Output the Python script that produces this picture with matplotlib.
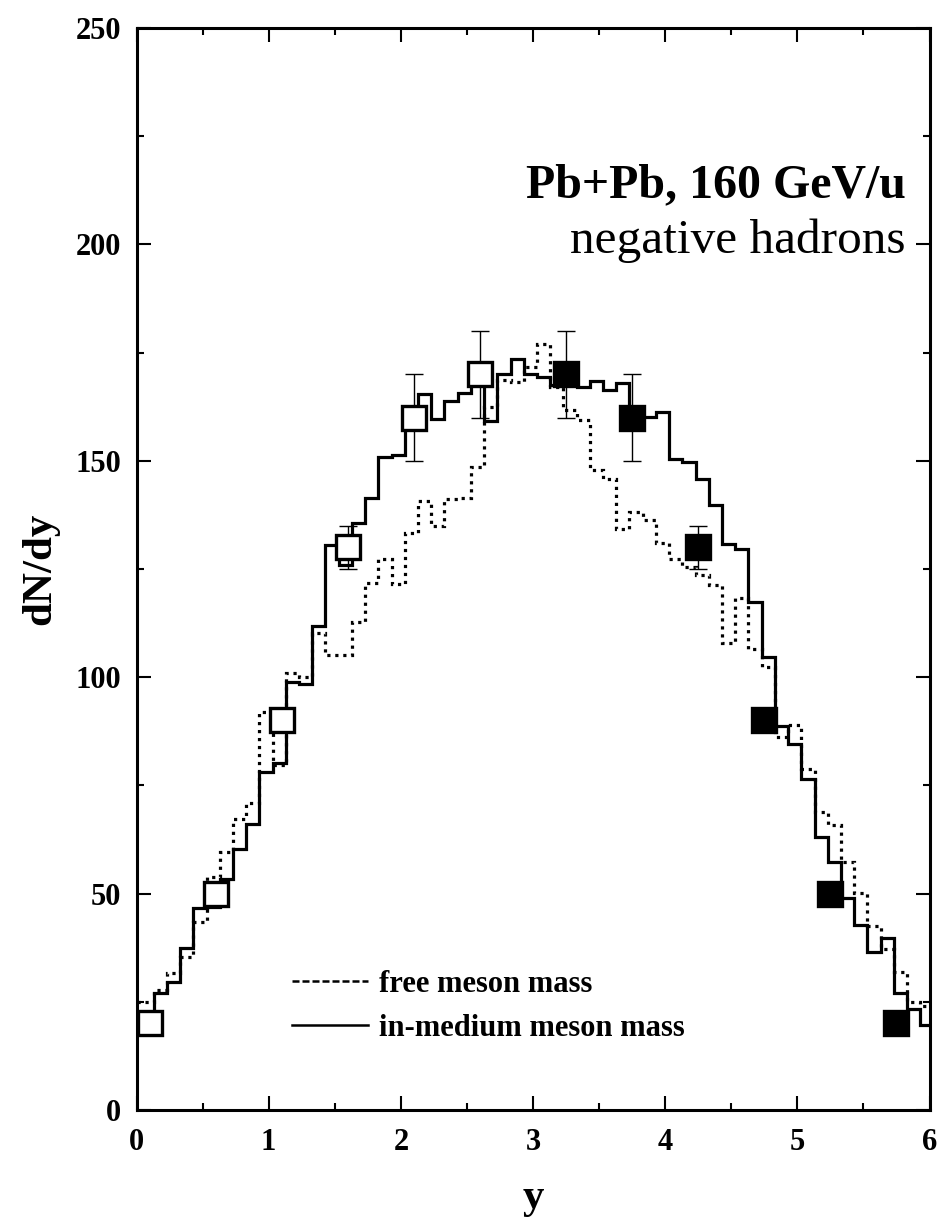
import numpy as np
import matplotlib
matplotlib.use("Agg")
import matplotlib.pyplot as plt
from matplotlib.lines import Line2D

# ---------------- data ----------------
bin_width = 0.1
first_edge = 0.13
n_inner = 59
edges = np.concatenate(([0.0], first_edge + bin_width * np.arange(n_inner), [6.0]))

in_medium = [18.0, 27.0, 29.6, 37.5, 46.6, 47.0, 53.3, 60.2, 66.1, 78.2,
             80.1, 99.0, 98.5, 111.8, 130.5, 126.0, 135.7, 141.3, 150.8, 151.4,
             159.0, 165.4, 159.7, 163.8, 165.7, 169.0, 159.2, 170.1, 173.6, 170.1,
             169.4, 167.5, 168.0, 167.1, 168.5, 166.3, 167.9, 161.0, 160.2, 161.2,
             150.5, 149.8, 145.7, 139.7, 130.8, 129.7, 117.4, 104.6, 88.7, 84.5,
             76.4, 63.0, 57.4, 48.9, 42.7, 36.6, 39.7, 27.0, 23.3, 19.6]

free_mass = [25.0, 27.7, 31.7, 35.3, 43.5, 53.9, 59.7, 67.2, 70.9, 92.0,
             79.7, 100.9, 100.0, 110.3, 105.1, 105.1, 112.8, 121.8, 127.2, 121.6,
             133.4, 140.8, 134.9, 141.2, 141.5, 148.6, 162.5, 168.7, 168.1, 171.7,
             177.0, 167.1, 161.7, 159.4, 147.9, 145.8, 134.2, 138.2, 136.4, 131.0,
             127.2, 125.5, 123.6, 121.3, 107.8, 118.2, 106.6, 102.4, 86.1, 89.0,
             78.9, 68.8, 65.8, 57.4, 50.2, 42.5, 37.2, 32.0, 25.0, 24.0]

open_y = [0.1, 0.6, 1.1, 1.6, 2.1, 2.6]
open_v = [20, 50, 90, 130, 160, 170]
open_err = [0, 0, 0, 5, 10, 10]

filled_y = [3.25, 3.75, 4.25, 4.75, 5.25, 5.75]
filled_v = [170, 160, 130, 90, 50, 20]
filled_err = [10, 10, 5, 0, 0, 0]

xticks = [0, 1, 2, 3, 4, 5, 6]
yticks = [0, 50, 100, 150, 200, 250]

# ---------------- figure ----------------
plt.rcParams['font.family'] = ['Liberation Serif', 'DejaVu Serif']
fig = plt.figure(figsize=(9.43, 12.18), dpi=100)
ax = fig.add_axes([136.5 / 943, 108 / 1218, 793 / 943, 1082 / 1218])

ax.stairs(free_mass, edges, color='black', lw=2.3, ls=(0, (1.0, 1.5)), baseline=None)
ax.stairs(in_medium, edges, color='black', lw=2.3, baseline=None)

ax.errorbar(open_y, open_v, yerr=open_err, fmt='none', ecolor='black',
            elinewidth=1.0, capsize=6.5, capthick=1.0, zorder=3)
ax.errorbar(filled_y, filled_v, yerr=filled_err, fmt='none', ecolor='black',
            elinewidth=1.0, capsize=6.5, capthick=1.0, zorder=3)
ax.plot(open_y, open_v, ls='none', marker='s', ms=17.5, mew=2.4,
        mfc='white', mec='black', zorder=4)
ax.plot(filled_y, filled_v, ls='none', marker='s', ms=17.5, mew=2.4,
        mfc='black', mec='black', zorder=4)

ax.set_xlim(0, 6)
ax.set_ylim(0, 250)
ax.set_xticks(xticks)
ax.set_yticks(yticks)
ax.set_xticks(np.arange(0.5, 6, 1.0), minor=True)
ax.set_yticks(np.arange(25, 250, 50), minor=True)
ax.tick_params(which='both', direction='in', top=True, right=True, width=1.5)
ax.tick_params(which='major', length=10, labelsize=22)
ax.tick_params(which='minor', length=5)
ax.tick_params(axis='x', which='major', pad=13)
ax.tick_params(axis='y', which='major', pad=11)
for lab in ax.get_xticklabels() + ax.get_yticklabels():
    lab.set_fontweight('bold')
for sp in ax.spines.values():
    sp.set_linewidth(2.2)

ax.set_xlabel('y', fontsize=31, fontweight='bold', labelpad=16)
ax.set_ylabel('dN/dy', fontsize=31, fontweight='bold', labelpad=12)

ax.text(5.82, 211.0, 'Pb+Pb, 160 GeV/u', ha='right', va='baseline',
        fontsize=34.5, fontweight='bold')
ax.text(5.82, 198.0, 'negative hadrons', ha='right', va='baseline',
        fontsize=35.5)

handles = [Line2D([], [], color='black', lw=1.8, ls=(0, (2.8, 1.2))),
           Line2D([], [], color='black', lw=1.8)]
leg = ax.legend(handles, ['free meson mass', 'in-medium meson mass'],
                loc='upper left', bbox_to_anchor=(0.196, 0.1295),
                frameon=False, borderaxespad=0, borderpad=0,
                handlelength=2.5, handletextpad=0.35, labelspacing=0.5,
                prop={'family': 'Liberation Serif', 'weight': 'bold', 'size': 22})

fig.savefig('out.png', dpi=100)
